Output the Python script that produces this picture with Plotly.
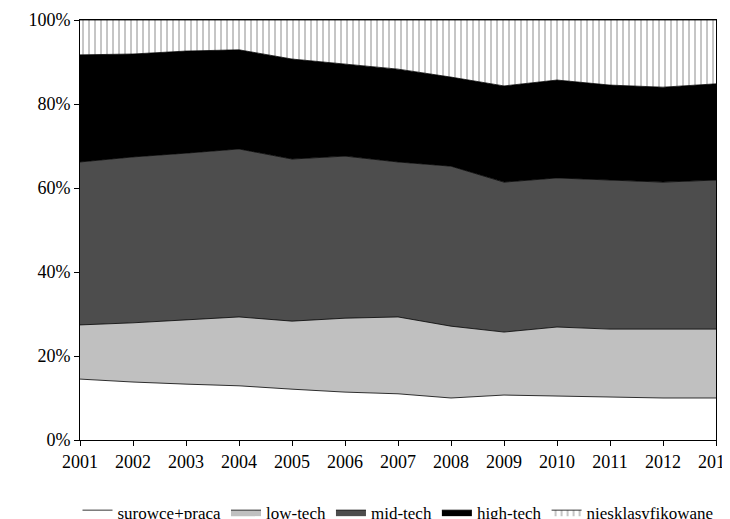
import plotly.graph_objects as go

years = list(range(2001, 2014))
surowce = [14.5,13.8,13.3,12.9,12.1,11.4,11.0,10.0,10.7,10.5,10.2,10.0,10.0]
low_tech = [12.9,14.1,15.3,16.4,16.2,17.6,18.3,17.1,15.0,16.4,16.2,16.4,16.4]
mid_tech = [38.8,39.5,39.7,40.0,38.6,38.6,36.9,38.1,35.7,35.5,35.5,35.0,35.5]
high_tech = [25.5,24.5,24.3,23.6,23.8,21.9,22.1,21.2,22.9,23.3,22.6,22.6,22.9]
niesk = [8.3,8.1,7.4,7.1,9.3,10.5,11.7,13.6,15.7,14.3,15.5,16.0,15.2]
y_ticks = [0, 20, 40, 60, 80, 100]
y_labels = ["0%", "20%", "40%", "60%", "80%", "100%"]

series = [
    ("surowce+praca", surowce, "white", None),
    ("low-tech", low_tech, "#c0c0c0", None),
    ("mid-tech", mid_tech, "#4d4d4d", None),
    ("high-tech", high_tech, "black", None),
    ("niesklasyfikowane", niesk, "white", "|"),
]

fig = go.Figure()
for name, vals, col, pat in series:
    kw = dict(fillcolor=col)
    if pat:
        kw["fillpattern"] = dict(shape="|", fgcolor="black", bgcolor="white", size=6, solidity=0.15)
    fig.add_trace(go.Scatter(x=years, y=vals, name=name, mode="lines", stackgroup="one",
                             line=dict(color="black", width=0.8), **kw))

fig.update_layout(
    width=730, height=519, plot_bgcolor="white", paper_bgcolor="white",
    margin=dict(l=72, r=22, t=12, b=87, autoexpand=False),
    font=dict(family="Liberation Serif", size=18, color="black"),
    xaxis=dict(range=[2001, 2013], tickvals=years, showline=True, linecolor="black",
               ticks="outside", ticklen=5, tickcolor="black", showgrid=False, mirror=True),
    yaxis=dict(range=[0, 100], tickvals=y_ticks, ticktext=y_labels, showline=True,
               linecolor="black", ticks="outside", ticklen=5, tickcolor="black", showgrid=False, mirror=True),
    legend=dict(orientation="h", x=0.5, xanchor="center", y=-0.13, yanchor="top",
                traceorder="normal", font=dict(size=17), itemwidth=30, tracegroupgap=0),
)
fig.write_html("out.html")
